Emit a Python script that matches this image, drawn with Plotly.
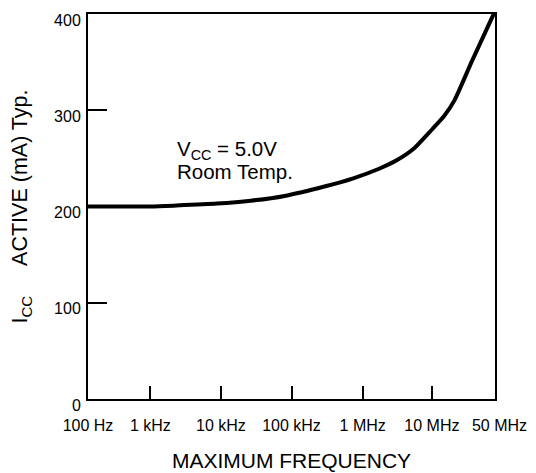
import plotly.graph_objects as go

# Axis ticks (x axis drawn on a "decade position" scale, as in the original chart)
x_tick_labels = ["100 Hz", "1 kHz", "10 kHz", "100 kHz", "1 MHz", "10 MHz",
                 "\u00a0\u00a050 MHz"]
x_tick_pos = [0.0, 0.92, 1.96, 3.0, 4.05, 5.07, 6.0]
y_tick_vals = [0, 100, 200, 300, 400]

# Curve: position on frequency scale, Icc (mA)
freq_pos = [0.0, 0.92, 1.3, 1.9, 2.4, 2.9, 3.5, 3.9, 4.3, 4.55, 4.8, 5.07, 5.25, 5.4, 5.66, 6.0]
icc_ma = [200, 200, 201, 203, 206, 211, 221, 229, 239.5, 248, 260, 280, 294, 310, 351, 403]

FONT = "Liberation Sans, Arial, Helvetica, sans-serif"

fig = go.Figure()
fig.add_trace(go.Scatter(
    x=freq_pos, y=icc_ma, mode="lines",
    line=dict(color="black", width=4, shape="spline", smoothing=0.6),
    showlegend=False, hoverinfo="skip",
))

fig.add_annotation(x=1.28, y=258.5, xref="x", yref="y", text="V<sub>CC</sub> = 5.0V",
                   showarrow=False, xanchor="left", yanchor="middle",
                   font=dict(family=FONT, size=20.5, color="black"))
fig.add_annotation(x=1.28, y=236, xref="x", yref="y", text="Room Temp.",
                   showarrow=False, xanchor="left", yanchor="middle",
                   font=dict(family=FONT, size=20.5, color="black"))

fig.update_xaxes(
    range=[0, 6], tickvals=x_tick_pos, ticktext=x_tick_labels, tickangle=0,
    ticklabeloverflow="allow",
    ticks="inside", ticklen=13, tickwidth=2, tickcolor="black",
    showline=True, linewidth=2, linecolor="black", mirror=True,
    showgrid=False, zeroline=False, ticklabelstandoff=11,
    tickfont=dict(family=FONT, size=16, color="black"),
    title=dict(text="MAXIMUM FREQUENCY", font=dict(family=FONT, size=21, color="black"), standoff=20),
)
fig.update_yaxes(
    range=[0, 400], tickvals=y_tick_vals,
    ticks="inside", ticklen=19, tickwidth=2, tickcolor="black",
    showline=True, linewidth=2, linecolor="black", mirror=True,
    showgrid=False, zeroline=False, ticklabelshift=6, ticklabelstandoff=2,
    tickfont=dict(family=FONT, size=16, color="black"),
    title=dict(text="I<sub>CC</sub>\u00a0\u00a0\u00a0\u00a0\u00a0ACTIVE (mA) Typ.",
               font=dict(family=FONT, size=21.5, color="black"), standoff=22),
)
fig.update_layout(
    width=528, height=465,
    margin=dict(l=80, r=41, t=4, b=69),
    plot_bgcolor="white", paper_bgcolor="white",
)
fig.write_html("out.html")
